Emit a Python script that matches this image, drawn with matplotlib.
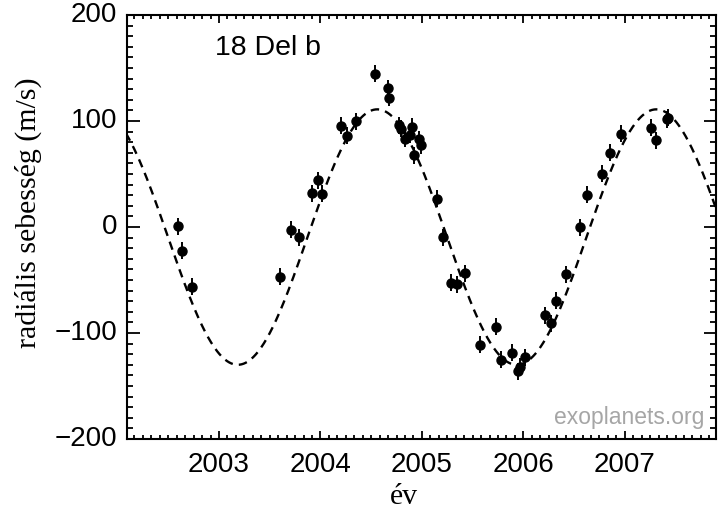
import numpy as np
import matplotlib
matplotlib.use('Agg')
import matplotlib.pyplot as plt
import matplotlib.transforms as mtransforms
from matplotlib.ticker import MultipleLocator

# radial velocity measurements of 18 Del (year, m/s)
years = [2002.593, 2002.638, 2002.731,
         2003.601, 2003.706, 2003.788, 2003.919, 2003.978, 2004.012,
         2004.199, 2004.264, 2004.350, 2004.540, 2004.662, 2004.672,
         2004.770, 2004.796, 2004.836, 2004.882, 2004.901, 2004.921,
         2004.973, 2004.987, 2005.151, 2005.210, 2005.283, 2005.342,
         2005.424, 2005.571, 2005.729, 2005.778, 2005.884, 2005.950,
         2005.965, 2006.015, 2006.212, 2006.268, 2006.317, 2006.416,
         2006.557, 2006.629, 2006.770, 2006.852, 2006.967, 2007.253,
         2007.312, 2007.415, 2007.425]
rv = [0.7, -22.4, -56.2,
      -46.8, -2.8, -9.8, 31.9, 43.9, 31.3,
      95.4, 86.0, 99.8, 144.7, 130.8, 122.0,
      96.0, 92.9, 83.4, 87.2, 94.8, 67.6,
      82.7, 77.1, 26.5, -9.8, -52.4, -54.0,
      -43.6, -110.9, -94.1, -125.1, -118.8, -136.0,
      -132.0, -122.9, -83.1, -91.0, -69.8, -44.5,
      -0.3, 30.3, 50.2, 70.1, 88.2, 93.6,
      81.8, 101.7, 103.0]
rv_err = [8] * len(rv)

# orbit fit (dashed line)
period = 2.75      # yr
K = 120.5          # m/s
gamma = -9.5       # m/s
t_peak = 2004.56

xticks = [2003, 2004, 2005, 2006, 2007]
yticks = [-200, -100, 0, 100, 200]

fig = plt.figure(figsize=(7.18, 5.10), dpi=100)
ax = fig.add_axes([0.177, 0.1373, 0.820, 0.8313])

t = np.linspace(2002.0, 2008.0, 600)
model = gamma + K * np.cos(2 * np.pi * (t - t_peak) / period)
ax.plot(t, model, color='black', lw=1.7, ls=(0, (3.6, 2.6)))

ax.errorbar(years, rv, yerr=rv_err, fmt='o', color='black', ms=6.5,
            elinewidth=1.4, capsize=0)

ax.set_xlim(2002.094, 2007.897)
ax.set_ylim(-200, 200)
ax.set_xticks(xticks)
ax.set_yticks(yticks)
ax.set_yticklabels([str(v).replace('-', '\u2212') for v in yticks])
ax.xaxis.set_minor_locator(MultipleLocator(1 / 12))
ax.yaxis.set_minor_locator(MultipleLocator(10))

ax.tick_params(axis='both', which='both', direction='in', top=True, right=True,
               width=1.3, labelsize=20)
ax.tick_params(axis='x', which='major', length=6, pad=9)
ax.tick_params(axis='x', which='minor', length=3)
ax.tick_params(axis='y', which='major', length=9, pad=7)
ax.tick_params(axis='y', which='minor', length=4.5)
up = mtransforms.ScaledTranslation(0, 4 / 100, fig.dpi_scale_trans)
for lbl in ax.get_yticklabels():
    lbl.set_transform(lbl.get_transform() + up)
for lbl in ax.get_xticklabels() + ax.get_yticklabels():
    lbl.set_family('Liberation Sans')
for s in ax.spines.values():
    s.set_linewidth(1.5)

ax.set_ylabel('radiális sebesség (m/s)', family='Liberation Serif', fontsize=21.5)
ax.yaxis.set_label_coords(-0.144, 0.535)
ax.set_xlabel('év', family='Liberation Serif', fontsize=21.5, va='center')
ax.xaxis.set_label_coords(0.47, -0.135)

ax.text(0.149, 0.925, '18 Del b', transform=ax.transAxes, family='Liberation Sans',
        fontsize=20.5, ha='left', va='center')
ax.text(0.981, 0.054, 'exoplanets.org', transform=ax.transAxes, family='Liberation Sans',
        fontsize=16.5, color='#a6a6a6', ha='right', va='center')

fig.savefig('out.png', dpi=100)
